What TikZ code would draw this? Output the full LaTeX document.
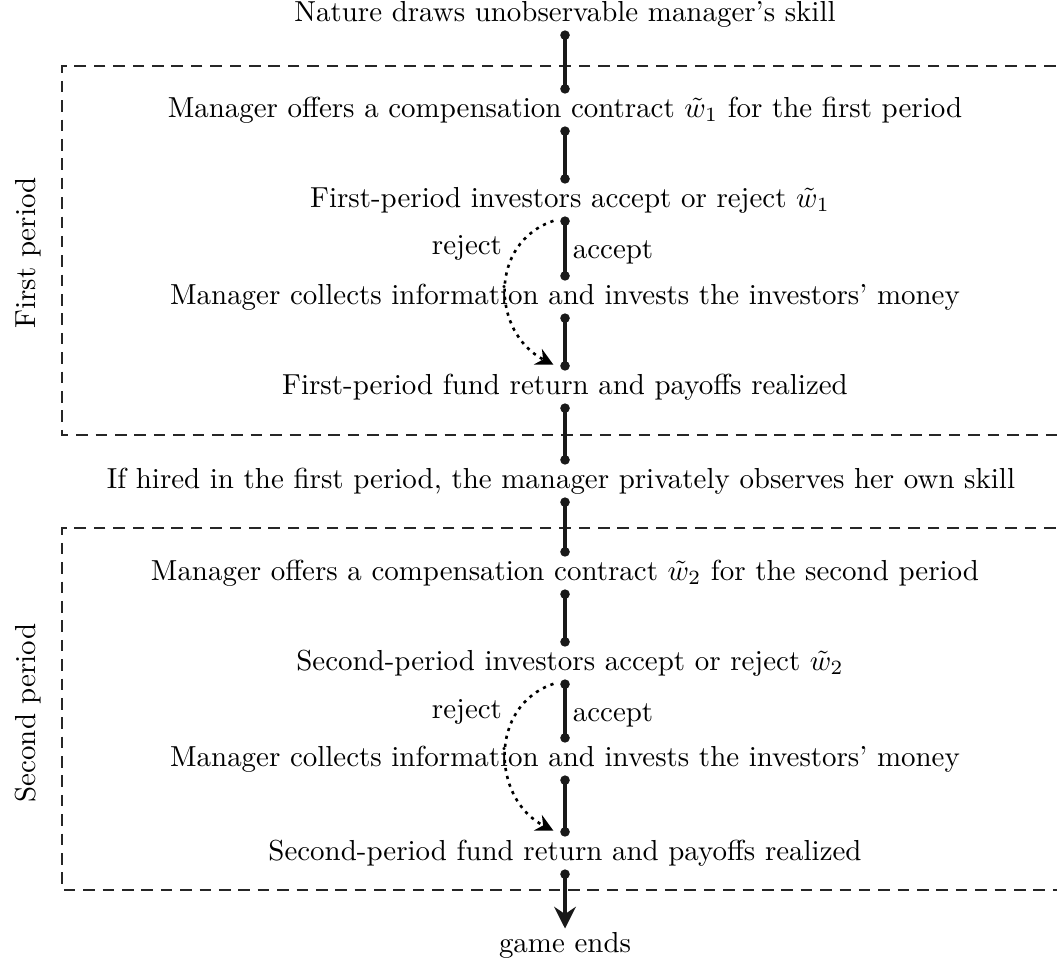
\documentclass[tikz,border=0pt]{standalone}
\usetikzlibrary{arrows.meta}
\begin{document}
\begin{tikzpicture}[x=0.3455pt,y=-0.3455pt,
  lbl/.style={inner sep=1pt, text height=7pt, text depth=2pt},
  seg/.style={line width=1.4pt, draw={black!90}, {Circle[length=3.2pt]}-{Circle[length=3.2pt]}},
  lastseg/.style={line width=1.4pt, draw={black!90}, {Circle[length=3.2pt]}-{Stealth[length=7.5pt,width=7.5pt,inset=2.5pt]}},
  boxline/.style={dash pattern=on 4pt off 2.7pt, line width=0.6pt, draw={black!85}},
  rej/.style={line width=0.9pt, dash pattern=on 1.1pt off 1.7pt, -{Stealth[length=6pt,width=6pt,inset=2pt]}},
  side/.style={rotate=90}
]
\useasboundingbox (0,0) rectangle (1057,963);
\clip (0,0) rectangle (1057,963);

% dashed period boxes
\draw[boxline] (1075,66) -- (62,66) -- (62,435) -- (1075,435);
\draw[boxline] (1075,528) -- (62,528) -- (62,890) -- (1075,890);
\node[side] (p1) at (28,253) {First period};
\node[side] (p2) at (28,713) {Second period};

% stages
\node[lbl] (n0) at (565,14) {Nature draws unobservable manager's skill};
\node[lbl] (n1) at (565,110) {Manager offers a compensation contract $\tilde{w}_1$ for the first period};
\node[lbl] (n2) at (570,200) {First-period investors accept or reject $\tilde{w}_1$};
\node[lbl] (n3) at (565,297) {Manager collects information and invests the investors' money};
\node[lbl] (n4) at (565,387) {First-period fund return and payoffs realized};
\node[lbl] (n5) at (561,481) {If hired in the first period, the manager privately observes her own skill};
\node[lbl] (m1) at (565,573) {Manager offers a compensation contract $\tilde{w}_2$ for the second period};
\node[lbl] (m2) at (570,663) {Second-period investors accept or reject $\tilde{w}_2$};
\node[lbl] (m3) at (565,759) {Manager collects information and invests the investors' money};
\node[lbl] (m4) at (565,853) {Second-period fund return and payoffs realized};
\node[lbl] (end) at (565,945) {game ends};

% connectors
\draw[seg] (n0.south) -- (n1.north);
\draw[seg] (n1.south) -- (n1.south |- n2.north);
\draw[seg] (n1.south |- n2.south) -- (n3.north) node[midway,right,inner sep=2pt,yshift=-1.5pt] {accept};
\draw[seg] (n3.south) -- (n4.north);
\draw[seg] (n4.south) -- (n4.south |- n5.north);
\draw[seg] (n4.south |- n5.south) -- (m1.north);
\draw[seg] (m1.south) -- (m1.south |- m2.north);
\draw[seg] (m1.south |- m2.south) -- (m3.north) node[midway,right,inner sep=2pt,yshift=-1.5pt] {accept};
\draw[seg] (m3.south) -- (m4.north);
\draw[lastseg] (m4.south) -- (end.north);

\draw[rej] ([xshift=-4pt,yshift=-1.5pt]n1.south |- n2.south) .. controls +(-65,22) and +(-62,-32) .. ([xshift=-4pt,yshift=2pt]n4.north)
  node[pos=0.25,left=1.5pt] {reject};
\draw[rej] ([xshift=-4pt,yshift=-1.5pt]m1.south |- m2.south) .. controls +(-65,22) and +(-62,-32) .. ([xshift=-4pt,yshift=2pt]m4.north)
  node[pos=0.25,left=1.5pt] {reject};
\end{tikzpicture}
\end{document}
